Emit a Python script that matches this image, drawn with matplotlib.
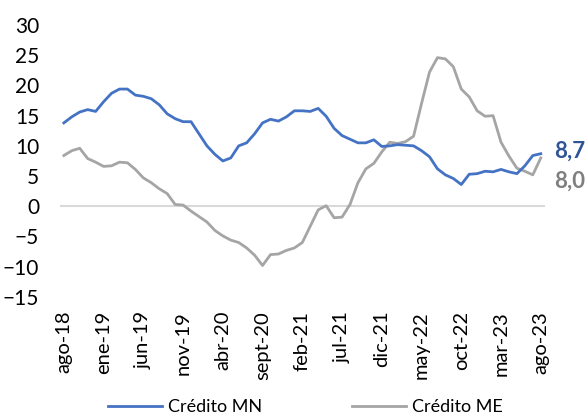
import matplotlib.pyplot as plt
import numpy as np

plt.rcParams['font.family'] = ['Lato', 'DejaVu Sans']

# monthly, ago-18 .. ago-23
tick_labels = ['ago-18', 'ene-19', 'jun-19', 'nov-19', 'abr-20', 'sept-20', 'feb-21',
               'jul-21', 'dic-21', 'may-22', 'oct-22', 'mar-23', 'ago-23']

credito_mn = [13.8, 14.8, 15.6, 16.0, 15.7, 17.3, 18.7, 19.4, 19.4, 18.4,
              18.2, 17.8, 16.8, 15.3, 14.5, 14.0, 14.0, 12.0, 10.0, 8.6,
              7.5, 8.0, 10.0, 10.5, 12.0, 13.8, 14.4, 14.1, 14.8, 15.8,
              15.8, 15.7, 16.2, 14.9, 12.9, 11.7, 11.1, 10.5, 10.5, 11.0,
              9.9, 10.0, 10.2, 10.1, 10.0, 9.2, 8.2, 6.2, 5.2, 4.6,
              3.6, 5.3, 5.4, 5.8, 5.7, 6.1, 5.7, 5.4, 6.7, 8.4, 8.7]

credito_me = [8.4, 9.2, 9.6, 7.9, 7.3, 6.6, 6.7, 7.3, 7.2, 6.1,
              4.7, 3.9, 2.9, 2.1, 0.3, 0.2, -0.8, -1.7, -2.6, -4.0,
              -4.9, -5.6, -6.0, -6.9, -8.1, -9.8, -8.0, -7.9, -7.3, -6.9,
              -6.0, -3.3, -0.6, 0.1, -1.9, -1.8, 0.3, 3.9, 6.2, 7.1,
              9.0, 10.6, 10.4, 10.7, 11.6, 17.0, 22.2, 24.6, 24.4, 23.1,
              19.4, 18.1, 15.8, 14.9, 15.0, 10.6, 8.3, 6.3, 5.8, 5.2, 8.0]

blue = '#4472C4'
gray = '#A5A5A5'

x = np.arange(len(credito_mn))

fig = plt.figure(figsize=(5.87, 4.17), dpi=100)
ax = fig.add_axes([0.102, 0.288, 0.826, 0.652])

ax.axhline(0, color='#D9D9D9', lw=1.5, zorder=1)
ax.plot(x, credito_mn, color=blue, lw=2.0, label='Crédito MN', zorder=3)
ax.plot(x, credito_me, color=gray, lw=2.0, label='Crédito ME', zorder=2)

ax.set_xlim(-0.5, len(x) - 0.5)
ax.set_ylim(-15, 30)
ax.set_yticks(range(-15, 31, 5))
ax.set_xticks(x[::5])
ax.set_xticklabels(tick_labels, rotation=90)

for s in ax.spines.values():
    s.set_visible(False)
ax.tick_params(axis='y', length=0, pad=15, labelsize=15)
ax.tick_params(axis='x', length=0, pad=10, labelsize=14.5)

# end labels
ax.annotate('8,7', (x[-1], credito_mn[-1]), xytext=(13, 3), textcoords='offset pixels',
            color='#2F5597', fontsize=16, fontweight='bold', va='center', ha='left')
ax.annotate('8,0', (x[-1], credito_me[-1]), xytext=(13, -23), textcoords='offset pixels',
            color='#7F7F7F', fontsize=16, fontweight='bold', va='center', ha='left')

fig.legend(loc='lower center', bbox_to_anchor=(0.52, -0.035), ncol=2, frameon=False,
           fontsize=13, handlelength=3.0, columnspacing=5.0, handletextpad=0.3)

fig.savefig('out.png', dpi=100)
